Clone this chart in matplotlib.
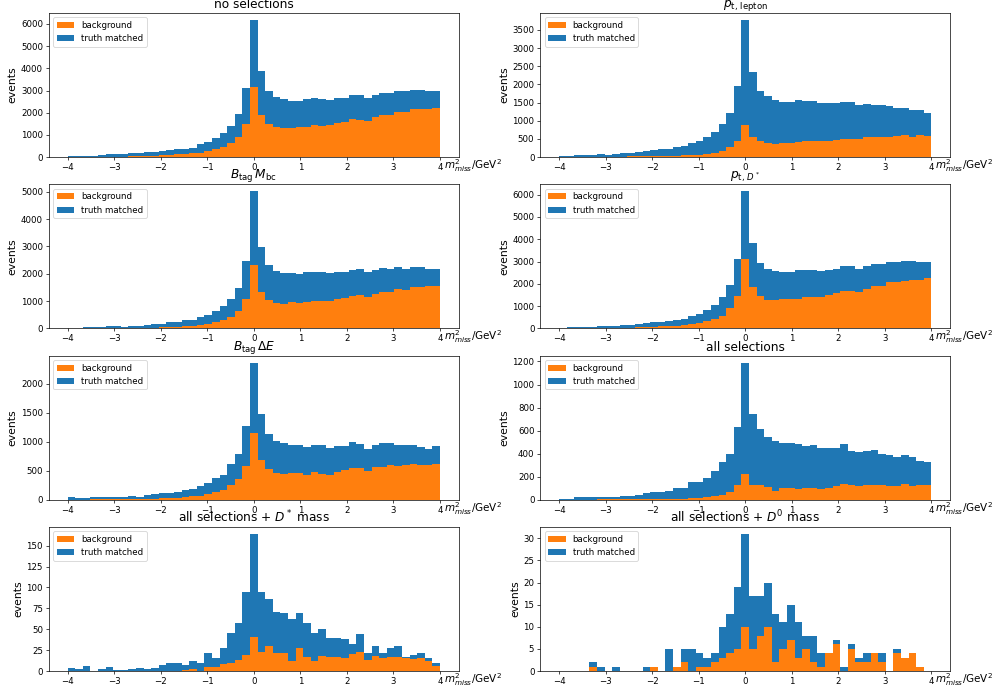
from __future__ import annotations

import matplotlib

matplotlib.use("Agg")
import matplotlib.pyplot as plt
import numpy as np


# 49 bins of m_miss^2 between -4 and 4 GeV^2
BIN_EDGES = np.linspace(-4, 4, 50)

TITLES = [
    "no selections",
    r"$p_{\mathrm{t,\,lepton}}$",
    r"$B_{\mathrm{tag}}\,M_{\mathrm{bc}}$",
    r"$p_{\mathrm{t},\,D^*}$",
    r"$B_{\mathrm{tag}}\,\Delta E$",
    "all selections",
    r"all selections + $D^*$ mass",
    r"all selections + $D^0$ mass",
]

# total (top of the stack) and background per bin
TOTAL_NO_SEL = [
    30, 40, 70, 70, 80, 120, 130, 130, 170, 180, 210, 250, 270, 300, 350, 380,
    430, 590, 680, 860, 1080, 1420, 1950, 3130, 6180, 3870, 3000, 2720, 2640,
    2540, 2540, 2620, 2680, 2640, 2590, 2680, 2680, 2810, 2810, 2680, 2820,
    2900, 2910, 3000, 2960, 3040, 3040, 2960, 3000,
]
BKG_NO_SEL = [
    5, 5, 10, 10, 15, 20, 20, 25, 30, 40, 50, 70, 80, 100, 120, 130, 170, 200,
    270, 370, 450, 630, 920, 1510, 3150, 1920, 1500, 1370, 1330, 1320, 1350,
    1360, 1450, 1410, 1460, 1540, 1580, 1720, 1680, 1640, 1810, 1900, 1910,
    2030, 2040, 2170, 2170, 2180, 2210,
]

TOTAL_PT_LEP = [
    40, 40, 45, 55, 70, 90, 70, 95, 100, 120, 150, 175, 200, 220, 220, 270,
    300, 380, 430, 550, 680, 900, 1200, 1950, 3770, 2330, 1810, 1670, 1560,
    1510, 1510, 1570, 1540, 1540, 1490, 1490, 1490, 1510, 1510, 1430, 1450,
    1420, 1420, 1400, 1350, 1350, 1290, 1290, 1200,
]
BKG_PT_LEP = [
    5, 5, 8, 8, 10, 10, 12, 12, 15, 20, 20, 25, 30, 30, 35, 40, 50, 60, 70, 80,
    110, 180, 270, 430, 870, 550, 450, 400, 360, 380, 400, 410, 430, 440, 440,
    450, 460, 500, 490, 510, 550, 550, 550, 560, 570, 600, 550, 620, 570,
]

TOTAL_MBC = [
    20, 30, 50, 50, 60, 80, 80, 60, 80, 90, 130, 150, 160, 220, 230, 290, 290,
    400, 480, 630, 820, 1070, 1480, 2480, 5020, 2990, 2330, 2120, 2040, 2030,
    2000, 2070, 2070, 2070, 2040, 2070, 2070, 2140, 2180, 2080, 2150, 2230,
    2190, 2250, 2190, 2250, 2250, 2190, 2190,
]
BKG_MBC = [
    3, 5, 5, 8, 8, 10, 10, 12, 15, 20, 25, 30, 40, 50, 70, 90, 100, 130, 160,
    230, 310, 420, 650, 1090, 2340, 1340, 1040, 940, 900, 960, 940, 960, 1000,
    1000, 1000, 1070, 1110, 1190, 1230, 1150, 1260, 1320, 1330, 1450, 1410,
    1510, 1520, 1550, 1560,
]

TOTAL_PT_DST = [
    20, 50, 60, 60, 70, 100, 100, 110, 150, 160, 200, 250, 270, 290, 330, 370,
    420, 560, 650, 840, 1050, 1390, 1950, 3130, 6150, 3810, 2950, 2680, 2590,
    2550, 2550, 2620, 2640, 2600, 2580, 2640, 2670, 2810, 2800, 2670, 2820,
    2900, 2900, 3000, 2960, 3010, 3010, 2960, 3000,
]
BKG_PT_DST = [
    5, 5, 10, 10, 15, 20, 20, 25, 30, 40, 50, 60, 80, 100, 120, 130, 160, 190,
    260, 340, 430, 560, 920, 1470, 3100, 1880, 1470, 1280, 1280, 1330, 1330,
    1330, 1420, 1420, 1420, 1510, 1600, 1700, 1700, 1640, 1790, 1910, 1920,
    2060, 2060, 2140, 2170, 2190, 2240,
]

TOTAL_DE = [
    40, 25, 35, 45, 50, 45, 50, 50, 60, 55, 80, 100, 120, 120, 130, 160, 190,
    240, 280, 370, 430, 610, 780, 1270, 2360, 1480, 1130, 1010, 980, 950, 940,
    910, 940, 940, 890, 920, 920, 990, 960, 870, 940, 970, 970, 950, 940, 940,
    910, 880, 920,
]
BKG_DE = [
    2, 3, 3, 5, 5, 5, 8, 15, 10, 15, 20, 20, 25, 30, 35, 40, 60, 70, 100, 140,
    170, 250, 350, 580, 1150, 680, 530, 460, 440, 460, 460, 420, 470, 450, 420,
    470, 510, 540, 540, 490, 560, 570, 590, 580, 600, 610, 590, 590, 620,
]

TOTAL_ALL = [
    10, 10, 20, 20, 20, 25, 25, 20, 35, 35, 45, 60, 70, 65, 80, 100, 100, 150,
    150, 185, 245, 330, 400, 630, 1190, 740, 610, 545, 510, 490, 490, 480, 470,
    475, 450, 450, 450, 480, 420, 410, 420, 430, 400, 390, 370, 385, 375, 340,
    330,
]
BKG_ALL = [
    0, 0, 1, 1, 1, 2, 2, 2, 3, 3, 3, 4, 4, 5, 5, 8, 10, 15, 15, 20, 30, 40, 70,
    125, 220, 125, 125, 110, 80, 100, 105, 90, 100, 105, 90, 105, 115, 140, 125,
    120, 125, 130, 125, 120, 120, 140, 120, 130, 125,
]

TOTAL_DST_MASS = [
    4, 3, 6, 0, 2, 5, 1, 1, 3, 4, 3, 4, 7, 10, 10, 7, 12, 10, 21, 15, 27, 46,
    57, 95, 164, 95, 86, 71, 69, 62, 70, 57, 45, 50, 40, 39, 38, 32, 44, 21, 30,
    22, 28, 30, 17, 19, 22, 15, 10,
]
BKG_DST_MASS = [
    0, 0, 0, 0, 0, 0, 0, 0, 0, 0, 0, 0, 0, 0, 0, 1, 2, 0, 5, 5, 8, 10, 13, 19,
    41, 23, 30, 22, 21, 12, 28, 17, 12, 18, 17, 17, 16, 20, 23, 13, 18, 15, 17,
    17, 16, 14, 16, 12, 6,
]

TOTAL_D0_MASS = [
    0, 0, 0, 0, 2, 1, 0, 1, 0, 0, 0, 1, 1, 0, 5, 1, 5, 5, 4, 3, 4, 10, 13, 19,
    31, 17, 17, 20, 13, 11, 15, 11, 8, 8, 4, 4, 7, 1, 6, 3, 4, 4, 4, 0, 5, 3, 4,
    1, 0,
]
BKG_D0_MASS = [
    0, 0, 0, 0, 1, 0, 0, 0, 0, 0, 0, 0, 1, 0, 0, 1, 2, 0, 1, 1, 2, 3, 4, 5, 10,
    5, 8, 10, 2, 5, 7, 3, 5, 2, 1, 4, 6, 0, 5, 2, 2, 4, 2, 0, 4, 3, 4, 1, 0,
]

PANELS = [
    (TOTAL_NO_SEL, BKG_NO_SEL),
    (TOTAL_PT_LEP, BKG_PT_LEP),
    (TOTAL_MBC, BKG_MBC),
    (TOTAL_PT_DST, BKG_PT_DST),
    (TOTAL_DE, BKG_DE),
    (TOTAL_ALL, BKG_ALL),
    (TOTAL_DST_MASS, BKG_DST_MASS),
    (TOTAL_D0_MASS, BKG_D0_MASS),
]

LEGEND_ORDER = ["background", "truth matched"]


def plot_panel(ax, total, background, title):
    centers = 0.5 * (BIN_EDGES[:-1] + BIN_EDGES[1:])
    background = np.asarray(background, dtype=float)
    truth = np.asarray(total, dtype=float) - background
    ax.hist(
        [centers, centers],
        bins=BIN_EDGES,
        weights=[background, truth],
        stacked=True,
        histtype="stepfilled",
        color=["tab:orange", "tab:blue"],
        label=LEGEND_ORDER,
    )
    ax.set_title(title, fontsize=14)
    ax.set_ylabel("events", fontsize=12.5)
    ax.set_xlabel(r"$m_{miss}^2$/GeV$^2$", fontsize=12)
    ax.xaxis.set_label_coords(1.035, -0.0)

    handles, labels = ax.get_legend_handles_labels()
    by_label = dict(zip(labels, handles))
    ax.legend([by_label[name] for name in LEGEND_ORDER], LEGEND_ORDER,
              loc="upper left")


def main() -> None:
    fig, axes = plt.subplots(4, 2, figsize=(16, 11.072), dpi=62.5)
    fig.subplots_adjust(left=0.049, right=0.95, bottom=0.0303, top=0.981,
                        wspace=0.2, hspace=0.19)

    for ax, (total, background), title in zip(axes.flat, PANELS, TITLES):
        plot_panel(ax, total, background, title)

    fig.savefig("out.png", dpi=62.5)
    plt.close(fig)


if __name__ == "__main__":
    main()
